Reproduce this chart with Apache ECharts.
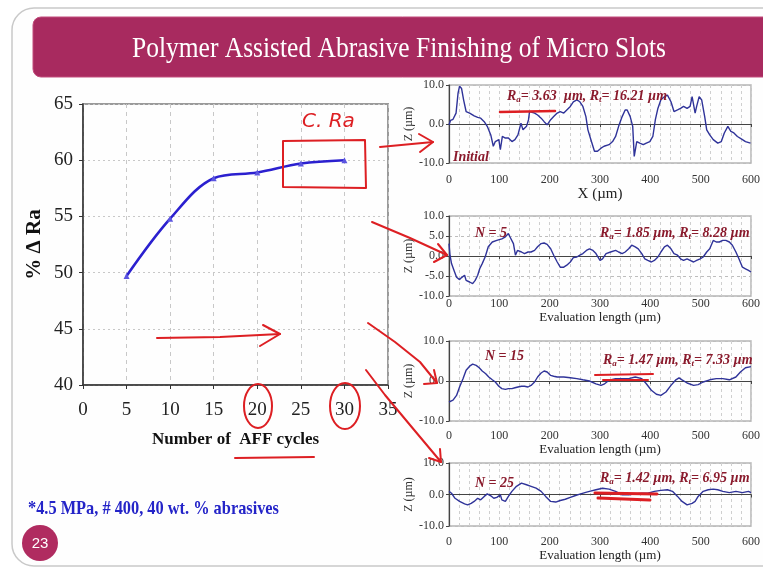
<!DOCTYPE html>
<html>
<head>
<meta charset="utf-8">
<script src="https://cdn.jsdelivr.net/npm/echarts@6/dist/echarts.min.js"></script>
<style>
html,body{margin:0;padding:0;background:#ffffff;}
#chart{width:763px;height:568px;}
</style>
</head>
<body>
<div id="chart"></div>
<script>
// ---------- Main chart data ----------
const cycles = [5, 10, 15, 20, 25, 30];
const deltaRa = [49.7, 54.8, 58.4, 58.9, 59.7, 60.0];
const mainYTicks = [40, 45, 50, 55, 60, 65];

// ---------- Surface profiles (evaluation length in µm, Z in µm) ----------
const initialX = [0,3,8,14,18,21,25,29,34,41,50,57,63,70,76,83,88,92,99,102,106,112,118,125,131,137,143,147,154,158,160,163,170,176,183,189,195,202,208,215,221,228,234,241,247,254,260,266,272,276,283,289,295,302,308,318,325,331,337,344,350,354,360,365,368,373,379,386,392,399,405,410,415,421,428,434,441,447,454,460,466,473,479,483,486,489,492,497,502,508,512,518,525,534,541,547,554,560,566,573,583,589,599,600];
const initialZ = [-0.2,0.9,1.2,2.8,7.9,9.7,9.1,6.2,3.2,2.8,2.1,1.7,1.5,0.6,-0.6,-2.8,-5.7,-4.5,-4.0,-6.6,-3.2,-3.6,-3.6,-4.5,-4.0,-2.8,0.2,-1.5,-0.6,1.1,3.2,3.2,2.8,2.3,1.5,0.6,-0.2,1.1,1.9,2.8,3.2,2.8,3.6,4.5,5.7,6.2,5.7,4.5,1.9,-1.5,-4.5,-7.0,-7.0,-6.2,-5.7,-5.3,-4.5,-3.2,-0.6,1.9,3.6,3.6,1.9,-0.6,-8.3,-4.5,-4.9,-5.3,-4.9,-4.5,-3.2,1.1,4.0,6.2,7.0,7.4,5.7,3.2,3.6,4.0,4.5,4.0,4.5,7.0,7.0,2.8,4.5,7.0,6.2,1.9,-1.5,-2.8,-4.0,-4.9,-4.5,-2.3,-0.6,-1.9,-2.3,-3.2,-4.0,-4.5,-4.9,-5.0];

const n5X = [0,2,5,10,15,18,21,25,28,31,34,41,47,52,57,61,66,72,78,86,95,105,112,118,121,128,132,136,144,150,157,163,170,176,183,189,195,202,208,215,221,228,234,241,247,254,260,266,273,279,286,292,300,305,312,321,331,337,344,350,357,363,370,376,383,389,395,402,408,415,421,428,434,441,447,454,460,466,473,479,486,492,499,505,512,518,525,531,537,544,550,557,563,570,576,583,589,595,600];
const n5Z = [3.1,0.2,-1.9,-3.6,-5.3,-5.7,-5.9,-5.4,-5.9,-4.8,-6.1,-6.5,-6.9,-6.1,-4.8,-3.2,-1.9,-0.2,2.3,3.5,3.9,4.3,4.8,5.6,4.8,3.1,0.2,1.4,1.0,0.6,1.0,1.0,1.4,2.3,3.1,3.25,2.9,1.8,0.2,-1.5,-2.8,-2.8,-2.3,-1.5,-0.4,-0.25,0.2,0.6,1.4,1.8,1.4,0.6,-1.1,-0.7,0.6,1.0,1.4,1.0,0.6,1.0,1.8,2.7,2.3,1.8,0.6,-0.7,-1.1,-1.5,-1.1,-0.25,1.0,2.3,2.7,1.8,0.6,0.2,-0.7,-1.1,-0.7,-1.1,-1.5,-1.1,-0.7,-0.25,1.0,1.8,3.9,3.5,3.5,3.9,3.9,3.5,2.7,1.0,-0.7,-2.8,-3.2,-3.6,-4.0];

const n15X = [0,8,15,21,28,34,41,47,54,60,66,73,79,86,92,99,105,112,118,125,131,137,144,150,157,163,170,176,183,189,195,202,208,215,228,241,254,266,279,292,302,308,318,331,344,357,370,383,392,402,412,421,431,441,450,457,463,473,486,495,505,518,531,544,557,570,579,589,600];
const n15Z = [-5.25,-4.8,-3.6,-1.5,0.6,2.7,3.7,4.2,3.9,3.3,2.5,1.8,1.0,0.3,-0.25,-1.3,-1.9,-2.1,-1.9,-1.9,-1.7,-1.5,-1.3,-1.3,-1.5,-1.1,-0.25,1.0,2.0,2.5,2.25,1.4,1.2,1.0,1.0,0.8,0.6,0.3,0,-0.7,-1.1,-0.8,0.2,0.6,0.6,0.6,1.0,0.6,-0.7,-2.3,-3.3,-3.6,-2.75,-1.1,0.2,0.8,0.3,-0.5,-1.1,-0.9,-0.25,0.3,0.6,0.6,0.3,1.0,2.25,3.3,3.6];

const n25X = [0,5,12,21,31,37,44,50,57,63,70,76,83,89,95,102,105,112,118,125,134,144,154,163,173,183,192,202,212,221,231,241,250,260,270,279,292,305,318,331,344,357,370,383,395,408,421,434,444,454,463,473,483,489,495,505,515,525,534,544,557,570,583,595,600];
const n25Z = [1.0,0.4,-1.2,-2.2,-3.0,-3.3,-2.8,-2.2,-1.2,-1.7,-0.6,0.2,-0.4,-1.2,-0.9,-0.1,-1.7,-2.2,-0.6,1.0,2.6,3.6,3.1,2.6,2.0,1.0,-0.6,-2.2,-2.4,-1.9,-1.5,-0.9,-0.4,0.1,0.6,1.0,1.5,2.0,1.7,1.0,-0.1,-0.1,0.2,0.4,0.4,1.0,1.3,1.5,1.0,-0.6,-2.2,-3.3,-2.8,-2.2,-0.6,1.0,1.5,1.7,1.5,1.0,0.6,1.0,0.6,1.0,0.6];

const panelLabels = ['Initial', 'N = 5', 'N = 15', 'N = 25'];
const panelRa = ['3.63', '1.85', '1.47', '1.42'];
const panelRt = ['16.21', '8.28', '7.33', '6.95'];

// ---------- helpers ----------
const SERIF = '"Liberation Serif", "Times New Roman", serif';
const zip = (xs, ys) => xs.map((x, i) => [x, ys[i]]);

const chart = echarts.init(document.getElementById('chart'), null, {renderer: 'canvas'});

const panels = [
  {top: 85,  height: 78, interval: 10, name: 'X (\u00b5m)', nameGap: 17, nameSize: 15, labelMargin: 11, data: zip(initialX, initialZ)},
  {top: 216, height: 80, interval: 5,  name: 'Evaluation length (\u00b5m)', nameGap: 15, nameSize: 13, labelMargin: 2, data: zip(n5X, n5Z)},
  {top: 341, height: 80, interval: 10, name: 'Evaluation length (\u00b5m)', nameGap: 19, nameSize: 13, labelMargin: 9, data: zip(n15X, n15Z)},
  {top: 463, height: 63, interval: 10, name: 'Evaluation length (\u00b5m)', nameGap: 22, nameSize: 13, labelMargin: 10, data: zip(n25X, n25Z)}
];

const grids = [{left: 83, top: 104, width: 305, height: 281, show: true, borderColor: '#9a9a9a', borderWidth: 2}];
const xAxes = [{
  gridIndex: 0, type: 'value', min: 0, max: 35, interval: 5,
  name: 'Number of  AFF cycles', nameLocation: 'middle', nameGap: 46,
  nameTextStyle: {fontFamily: SERIF, fontWeight: 'bold', fontSize: 17, color: '#111'},
  axisLine: {show: true, lineStyle: {color: '#333', width: 1.5}},
  axisTick: {show: true, length: 4, lineStyle: {color: '#333'}},
  axisLabel: {fontFamily: SERIF, fontSize: 19, color: '#222', margin: 16},
  splitLine: {show: true, lineStyle: {color: '#c8c8c8', type: [4, 4], width: 1}}
}];
const yAxes = [{
  gridIndex: 0, type: 'value', min: 40, max: 65, interval: 5,
  name: '% \u0394 Ra', nameLocation: 'middle', nameGap: 38, nameRotate: 90,
  nameTextStyle: {fontFamily: SERIF, fontWeight: 'bold', fontSize: 21, color: '#111'},
  axisLine: {show: true, lineStyle: {color: '#333', width: 1.5}},
  axisTick: {show: true, length: 4, lineStyle: {color: '#333'}},
  axisLabel: {fontFamily: SERIF, fontSize: 19, color: '#222', margin: 10},
  splitLine: {show: true, lineStyle: {color: '#c8c8c8', type: [2, 3], width: 1.2}}
}];
const series = [{
  type: 'line', xAxisIndex: 0, yAxisIndex: 0,
  data: zip(cycles, deltaRa), smooth: 0.35,
  symbol: 'triangle', symbolSize: 6,
  lineStyle: {color: '#2b20cf', width: 2.6},
  itemStyle: {color: '#5b55e0'}, z: 5
}];

panels.forEach((p, i) => {
  const g = i + 1;
  grids.push({left: 449, top: p.top, width: 310, height: p.height, show: true, borderColor: '#b5b5b5', borderWidth: 1.5});
  xAxes.push({
    gridIndex: g, type: 'value', min: 0, max: 600, interval: 100,
    name: p.name, nameLocation: 'middle', nameGap: p.nameGap,
    nameTextStyle: {fontFamily: SERIF, fontSize: p.nameSize, color: '#222', verticalAlign: 'top'},
    axisLine: {show: true, lineStyle: {color: '#444', width: 1.2}},
    axisTick: {show: true, length: 3, lineStyle: {color: '#444'}},
    minorTick: {show: false, splitNumber: 5},
    minorSplitLine: {show: true, lineStyle: {color: '#cfcfcf', type: [3, 3], width: 1}},
    axisLabel: {fontFamily: SERIF, fontSize: 12, color: '#333', margin: p.labelMargin},
    splitLine: {show: true, lineStyle: {color: '#cfcfcf', type: [3, 3], width: 1}}
  });
  yAxes.push({
    gridIndex: g, type: 'value', min: -10, max: 10, interval: p.interval,
    name: 'Z (\u00b5m)', nameLocation: 'middle', nameGap: 24, nameRotate: 90,
    nameTextStyle: {fontFamily: SERIF, fontSize: 12, color: '#333'},
    axisLine: {show: true, lineStyle: {color: '#444', width: 1.2}},
    axisTick: {show: true, length: 3, lineStyle: {color: '#444'}},
    axisLabel: {fontFamily: SERIF, fontSize: 12, color: '#333', margin: 5, formatter: v => v.toFixed(1)},
    splitLine: {show: true, lineStyle: {color: '#bdbdbd', type: [3, 3], width: 1}}
  });
  series.push({
    type: 'line', xAxisIndex: g, yAxisIndex: g, data: p.data,
    symbol: 'none', smooth: false,
    lineStyle: {color: '#2f3399', width: 1.4}, z: 3
  });
});

// ---------- text & decoration ----------
const RED = '#dd1f23';
const DRED = '#8a1a2c';
function raText(ra, rt, x, y, gap) {
  const base = {fontFamily: SERIF, fontWeight: 'bold', fontStyle: 'italic', fontSize: 14, fill: DRED};
  const sub = {fontFamily: SERIF, fontWeight: 'bold', fontStyle: 'italic', fontSize: 9, fill: DRED, padding: [7, 0, 0, 0]};
  return {
    type: 'text', x: x, y: y, z: 50,
    style: {
      text: '{a|R}{s|a}{a|= ' + ra + gap + '\u00b5m, R}{s|t}{a|= ' + rt + ' \u00b5m}',
      rich: {a: base, s: sub}, textVerticalAlign: 'middle'
    }
  };
}
function label(txt, x, y) {
  return {type: 'text', x: x, y: y, z: 50,
    style: {text: txt, font: 'italic bold 14px ' + SERIF, fill: DRED, textVerticalAlign: 'middle'}};
}
function stroke(points, w) {
  return {type: 'polyline', z: 100, shape: {points: points},
    style: {stroke: RED, lineWidth: w || 2, fill: null, lineCap: 'round', lineJoin: 'round'}};
}

const graphic = [
  {type: 'rect', z: -10, shape: {x: 12, y: 8, width: 800, height: 558, r: 22},
    style: {fill: '#fefefe', stroke: '#c9c9c9', lineWidth: 1.5}},
  {type: 'rect', z: -5, shape: {x: 33, y: 17, width: 740, height: 60, r: 8},
    style: {fill: '#a82a5f', stroke: '#c24c7c', lineWidth: 1}},
  {type: 'text', z: 10, x: 399, y: 49, scaleX: 0.85,
    style: {text: 'Polymer Assisted Abrasive Finishing of Micro Slots', font: '30px ' + SERIF,
      fill: '#ffffff', textAlign: 'center', textVerticalAlign: 'middle'}},
  {type: 'text', z: 10, x: 28, y: 509, scaleX: 0.86,
    style: {text: '*4.5 MPa, # 400, 40 wt. % abrasives', font: 'bold 19px ' + SERIF,
      fill: '#2424c8', textVerticalAlign: 'middle'}},
  {type: 'circle', z: 10, shape: {cx: 40, cy: 543, r: 18}, style: {fill: '#b02b60'}},
  {type: 'text', z: 11, x: 40, y: 544,
    style: {text: '23', font: '15px "Liberation Sans", Arial, sans-serif', fill: '#ffffff',
      textAlign: 'center', textVerticalAlign: 'middle'}},

  label(panelLabels[0], 453, 157),
  raText(panelRa[0], panelRt[0], 507, 96, '  '),
  label(panelLabels[1], 475, 233),
  raText(panelRa[1], panelRt[1], 600, 233, ' '),
  label(panelLabels[2], 485, 356),
  raText(panelRa[2], panelRt[2], 603, 360, ' '),
  label(panelLabels[3], 475, 483),
  raText(panelRa[3], panelRt[3], 600, 478, ' '),

  // hand-drawn red annotations
  {type: 'text', z: 100, x: 302, y: 122,
    style: {text: 'C. Ra', font: 'italic 20px "DejaVu Sans", sans-serif', fill: RED, textVerticalAlign: 'middle'}},
  stroke([[283, 141], [365, 140], [366, 188], [283, 187], [283, 141]]),
  stroke([[380, 147], [433, 142]]),
  stroke([[419, 134], [433, 142], [420, 152]]),
  stroke([[372, 222], [410, 238], [447, 255]]),
  stroke([[434, 262], [447, 255], [438, 244]]),
  stroke([[368, 323], [395, 342], [420, 362], [437, 383]]),
  stroke([[424, 384], [437, 383], [434, 370]]),
  stroke([[366, 370], [385, 395], [410, 425], [441, 462]]),
  stroke([[429, 458], [441, 462], [440, 449]]),
  stroke([[157, 338], [220, 337], [280, 334]]),
  stroke([[263, 325], [280, 334], [260, 346]]),
  {type: 'ellipse', z: 100, shape: {cx: 258, cy: 406, rx: 14, ry: 22}, style: {stroke: RED, lineWidth: 2, fill: null}},
  {type: 'ellipse', z: 100, shape: {cx: 345, cy: 406, rx: 15, ry: 23}, style: {stroke: RED, lineWidth: 2, fill: null}},
  stroke([[235, 458], [314, 457]]),
  stroke([[500, 112], [555, 111]], 2.5),
  stroke([[595, 375], [653, 374]]),
  stroke([[603, 380], [648, 380]]),
  stroke([[595, 493], [657, 494]], 3),
  stroke([[598, 498], [650, 500]], 3)
];

chart.setOption({
  backgroundColor: '#ffffff',
  animation: false,
  grid: grids,
  xAxis: xAxes,
  yAxis: yAxes,
  series: series,
  graphic: graphic
});
</script>
</body>
</html>
